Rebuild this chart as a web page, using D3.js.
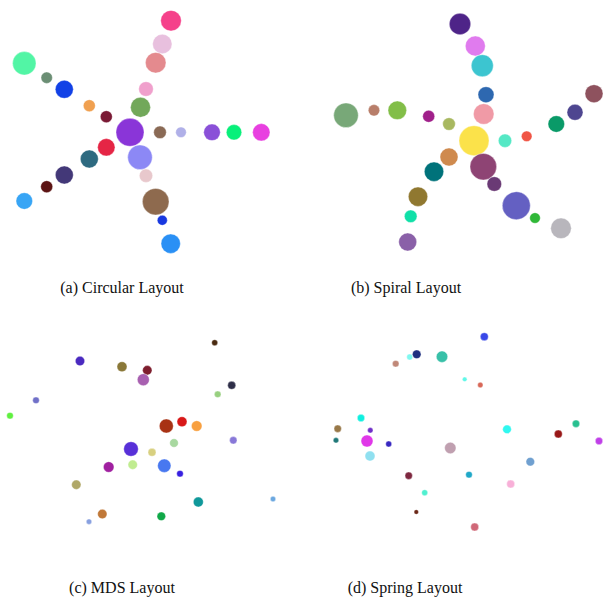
<!DOCTYPE html>
<html>
<head>
<meta charset="utf-8">
<script src="https://cdn.jsdelivr.net/npm/d3@7"></script>
<style>
  body { margin: 0; background: #fff; }
  svg { display: block; }
</style>
</head>
<body>
<svg id="chart" width="603" height="597"></svg>
<script>
// layout coordinates of each node inside its panel, [x, y, radius]
var circularNodes = [
  [24.3, 63.3, 11.7], [46.7, 77.7, 5.7], [64.3, 89.3, 9], [89.3, 105.7, 6],
  [106.3, 116.7, 6], [146, 89, 7.3], [140.5, 107.3, 10], [130, 132.3, 14],
  [171, 20.7, 10.3], [162.3, 44, 9.7], [155.7, 62.7, 10.3], [160, 132.3, 6.3],
  [181, 132.3, 5.3], [212, 132.3, 8.3], [234, 132.3, 7.7], [261.3, 132.3, 8.7],
  [140, 157.3, 12.3], [146, 175.7, 6.7], [155.7, 201.7, 13.3], [162.3, 220.3, 5],
  [170.7, 243.7, 9.7], [106.3, 147.3, 8.7], [89.3, 159, 9], [64.3, 175, 9],
  [46.7, 186.7, 6], [24.3, 201, 8.3]
];
var circularColors = [
  "#52f5a5", "#6b8e74", "#1241e6", "#f0a050", "#7a1a35", "#f0a0cc", "#72a85a", "#8a35d8",
  "#f5418a", "#e8c0de", "#e48a8e", "#8a6a55", "#b0b0e8", "#8a50d8", "#08f07a", "#e840e0",
  "#8c88f5", "#e8c8cc", "#8e6a4e", "#1838e0", "#2a90f5", "#e52545", "#2e6a80", "#433878",
  "#5c1414", "#38a5f5"
];

var spiralNodes = [
  [160, 24, 10.7], [175.3, 46, 10], [182.3, 65.7, 11], [186, 94.7, 8],
  [183.7, 114, 10.3], [294, 93.7, 9], [275, 112.3, 8], [256.3, 124, 8.3],
  [46, 115.3, 12.3], [74, 110.3, 5.7], [97.3, 110.3, 9.3], [128.7, 116.3, 6],
  [149, 124, 6.3], [174, 140.7, 15], [149, 157, 9], [134, 171.7, 9.7],
  [118, 196.7, 9.7], [110.7, 216.3, 6.3], [107.7, 242, 9], [205, 140.7, 6.7],
  [226.7, 136.3, 5.3], [183.3, 166.7, 13.3], [194.3, 184, 7.3], [216.3, 205.7, 14],
  [235, 218, 5.3], [261, 228.3, 10.3]
];
var spiralColors = [
  "#4e2488", "#e07bee", "#3cc5d0", "#2e68b0", "#f09aa6", "#8e525e", "#4e4690", "#0a9a68",
  "#78a878", "#b87e6a", "#82be48", "#a0208a", "#a8b860", "#fbe24a", "#cf8a4e", "#00727a",
  "#907830", "#10e0a8", "#8a60a8", "#55e8c5", "#f05545", "#8e4474", "#6a3a75", "#6460c2",
  "#30b838", "#b8b6bc"
];

var mdsNodes = [
  [80, 41, 4.7], [122, 46.7, 5], [147.3, 50.3, 4.7], [143.3, 59.7, 6],
  [214.7, 22.7, 3], [231.7, 65.3, 4], [217.7, 74.3, 3.3], [36, 80.3, 3.3],
  [10, 95.7, 3.3], [166.3, 106, 7], [182, 101.7, 5], [196.7, 106, 5.3],
  [174, 123, 4.3], [233.3, 120.3, 3.7], [131, 129, 7.3], [152, 132.3, 4],
  [108.7, 147, 5.3], [132.7, 144.7, 4.7], [164.3, 145.7, 6.7], [180, 153.7, 3.3],
  [76.3, 164.7, 4.7], [198.3, 182, 5], [273, 179, 2.7], [102.3, 194, 4.7],
  [89, 201.7, 2.7], [161.3, 196.3, 4.3]
];
var mdsColors = [
  "#4a2ac0", "#8a7838", "#7e1e2e", "#a860b0", "#4a2a10", "#2e2e48", "#98d080", "#7070c8",
  "#60f040", "#a83214", "#d81818", "#f8a040", "#a8d8a0", "#8878d8", "#5830d8", "#d8d080",
  "#a020a0", "#c0ec90", "#4878f0", "#3820e0", "#b0a868", "#10989a", "#6ca8e0", "#c07838",
  "#88a0e0", "#10a848"
];

var springNodes = [
  [184.3, 16.7, 4], [116.7, 34.3, 4.3], [109.7, 37, 3], [142, 36.7, 5.7],
  [95.7, 43.7, 3.3], [164.7, 59.3, 2.3], [180.3, 65, 2.7], [61, 98, 3.7],
  [37.7, 108.7, 3.7], [70.3, 110.3, 2.7], [36, 120.3, 2.7], [67, 121, 6],
  [88.7, 124, 3], [70, 136, 5], [150.3, 128, 5.7], [207, 109.3, 4.3],
  [258.3, 114, 4], [276, 103.7, 3.7], [299, 121, 3.7], [230.3, 141.7, 4.3],
  [108.7, 155.7, 3.7], [169, 154.7, 3.3], [210.7, 164, 4], [124.7, 172.7, 3],
  [116.3, 192, 2.3], [174.7, 207, 4]
];
var springColors = [
  "#3848e8", "#1e3080", "#80f8f0", "#38c0a8", "#c08878", "#60f8e8", "#d86858", "#10f0e0",
  "#987848", "#7030c8", "#207878", "#e038e8", "#3828c0", "#90e0f0", "#c0a0b0", "#30f8f0",
  "#981818", "#28c090", "#c040e8", "#70a0d0", "#7e2840", "#20a8c8", "#f8b0d8", "#50f0d0",
  "#6a2818", "#d06878"
];

var captions = ["(a) Circular Layout", "(b) Spiral Layout", "(c) MDS Layout", "(d) Spring Layout"];

var panels = [
  { nodes: circularNodes, colors: circularColors, ox: 0, oy: 0, capX: 122, capY: 293 },
  { nodes: spiralNodes, colors: spiralColors, ox: 300, oy: 0, capX: 406, capY: 293 },
  { nodes: mdsNodes, colors: mdsColors, ox: 0, oy: 320, capX: 122, capY: 593 },
  { nodes: springNodes, colors: springColors, ox: 300, oy: 320, capX: 405, capY: 593 }
];

var svg = d3.select("#chart");

panels.forEach(function (p, i) {
  var x = d3.scaleLinear().domain([0, 300]).range([p.ox, p.ox + 300]);
  var y = d3.scaleLinear().domain([0, 260]).range([p.oy, p.oy + 260]);
  var r = d3.scaleLinear().domain([0, 1]).range([0, 1]);

  var g = svg.append("g");

  g.selectAll("circle")
    .data(p.nodes)
    .enter()
    .append("circle")
    .attr("cx", function (d) { return x(d[0]); })
    .attr("cy", function (d) { return y(d[1]); })
    .attr("r", function (d) { return r(d[2]); })
    .attr("fill", function (d, j) { return p.colors[j]; })
    .attr("stroke", "#fff")
    .attr("stroke-opacity", 0.6)
    .attr("stroke-width", 0.6);

  svg.append("text")
    .attr("x", p.capX)
    .attr("y", p.capY)
    .attr("text-anchor", "middle")
    .attr("font-family", "'Liberation Serif', 'Times New Roman', serif")
    .attr("font-size", 16)
    .attr("fill", "#111")
    .text(captions[i]);
});
</script>
</body>
</html>
